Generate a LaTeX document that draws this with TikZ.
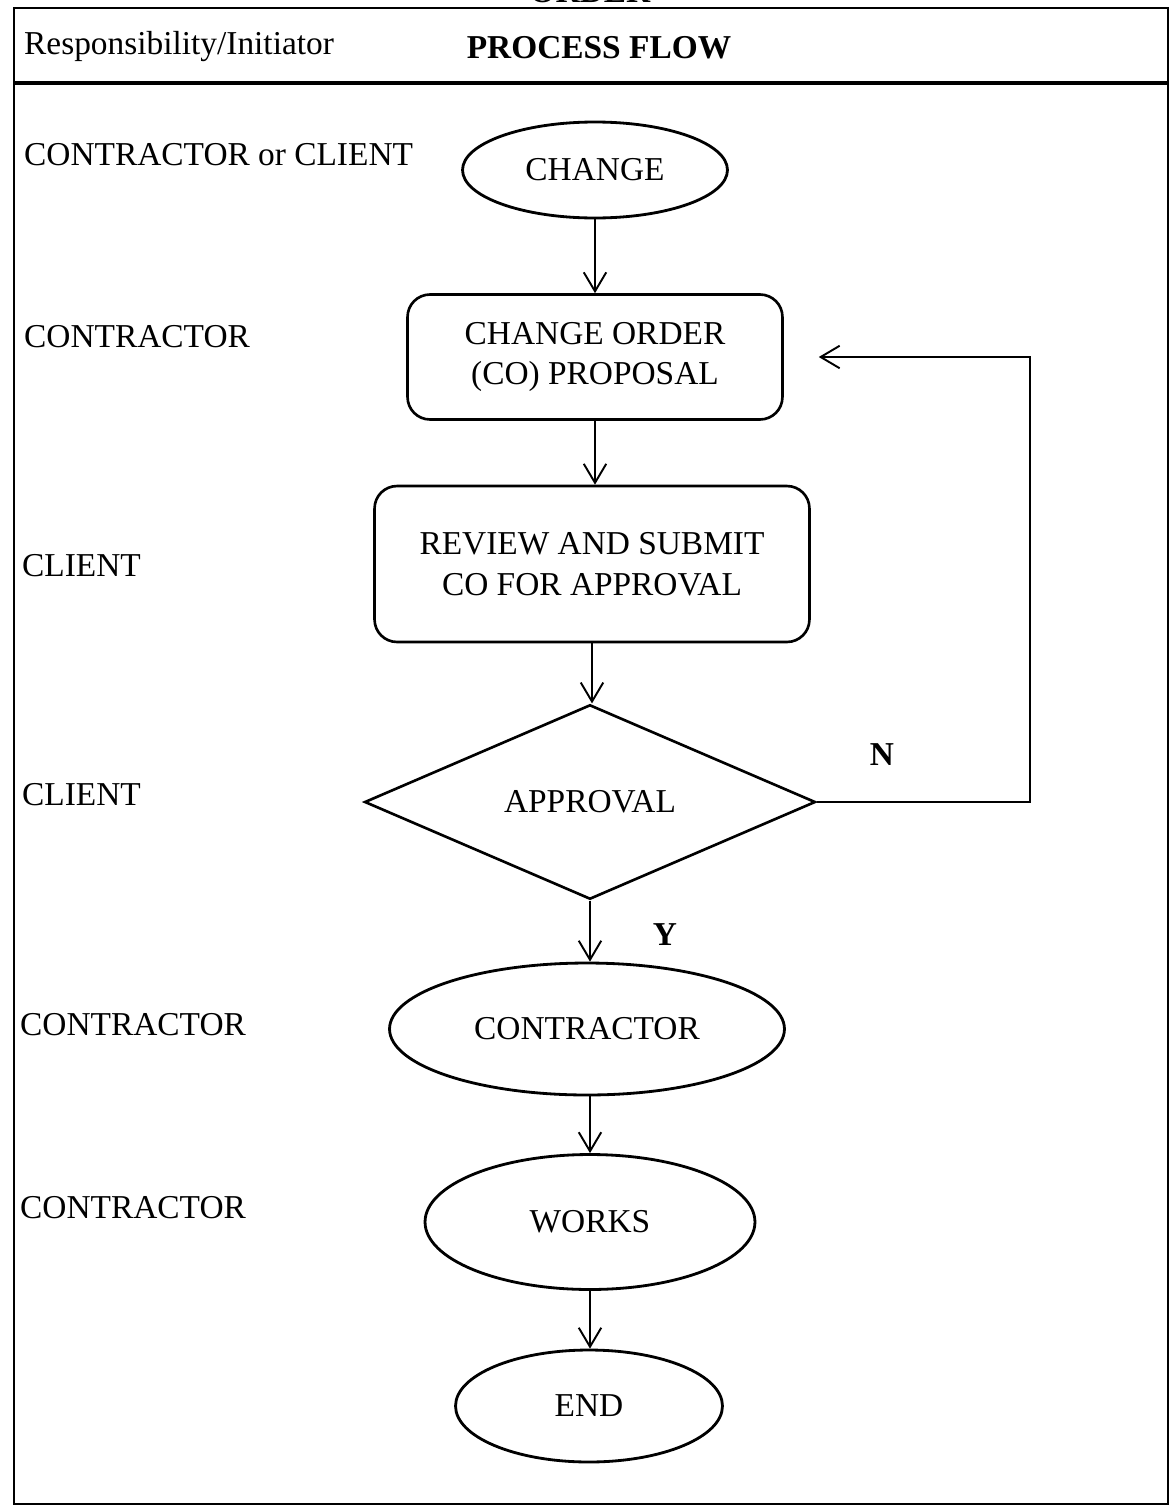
\documentclass[tikz,border=0pt]{standalone}
\usepackage{fontspec}
\setmainfont{Liberation Serif}
\usetikzlibrary{shapes.geometric,arrows.meta}

\tikzset{
  flowtxt/.style={font=\fontsize{19}{23}\selectfont, align=center},
  lanetxt/.style={font=\fontsize{19}{23}\selectfont, anchor=west},
  oval/.style={ellipse, draw, line width=1.6pt, inner sep=0pt, flowtxt},
  roundbox/.style={rectangle, rounded corners=0.45cm, draw, line width=1.5pt, inner sep=0pt, flowtxt},
  decision/.style={diamond, draw, line width=1.5pt, inner sep=0pt, flowtxt},
  flowline/.style={line width=1.1pt, -{Straight Barb[length=0.38cm, width=0.45cm, line width=1.1pt]}},
}

\begin{document}
\begin{tikzpicture}[x=0.02cm, y=-0.02cm]

\useasboundingbox (0,0) rectangle (1171,1508);

% frame and header
\draw[line width=1.6pt] (14,8) -- (1168,8) -- (1168,1504) -- (14,1504) -- cycle;
\draw[line width=1.8pt] (14,83) -- (1168,83);
\node[font=\fontsize{19}{23}\selectfont\bfseries] (order) at (590,-8) {ORDER};
\node[lanetxt] (resp) at (18,47) {Responsibility/Initiator};
\node[font=\fontsize{19}{23}\selectfont\bfseries] (flow) at (599,48) {PROCESS FLOW};

% responsibility column
\node[lanetxt] (r1) at (18,155) {CONTRACTOR or CLIENT};
\node[lanetxt] (r2) at (18,337) {CONTRACTOR};
\node[lanetxt] (r3) at (16,566) {CLIENT};
\node[lanetxt] (r4) at (16,795) {CLIENT};
\node[lanetxt] (r5) at (14,1025) {CONTRACTOR};
\node[lanetxt] (r6) at (14,1208) {CONTRACTOR};

% process flow
\node[oval, minimum width=5.3cm, minimum height=1.92cm] (change) at (595,170) {CHANGE};
\node[roundbox, minimum width=7.5cm, minimum height=2.5cm] (proposal) at (595,357) {CHANGE ORDER\\(CO) PROPOSAL};
\node[roundbox, minimum width=8.7cm, minimum height=3.12cm] (review) at (592,564) {REVIEW AND SUBMIT\\CO FOR APPROVAL};
\node[decision, minimum width=9.02cm, minimum height=3.78cm] (approval) at (590,802) {APPROVAL};
\node[oval, minimum width=7.9cm, minimum height=2.64cm] (contractor) at (587,1029) {CONTRACTOR};
\node[oval, minimum width=6.6cm, minimum height=2.7cm] (works) at (590,1222) {WORKS};
\node[oval, minimum width=5.34cm, minimum height=2.24cm] (end) at (589,1406) {END};

\draw[flowline] (change.south) -- (proposal.north -| change.south);
\draw[flowline] (proposal.south) -- (review.north -| proposal.south);
\draw[flowline] (review.south) -- (approval.north -| review.south);
\draw[flowline] (approval.south) -- (contractor.north -| approval.south);
\draw[flowline] (contractor.south -| works.north) -- (works.north);
\draw[flowline] (works.south) -- (end.north -| works.south);

% N loop back
\coordinate (loop) at (1030,357);
\draw[flowline, rounded corners=0pt] (approval.east) -- (approval.east -| loop) -- (loop) -- ([xshift=0.7cm]proposal.east);

\node[font=\fontsize{19}{23}\selectfont\bfseries] (nlabel) at (882,755) {N};
\node[font=\fontsize{19}{23}\selectfont\bfseries] (ylabel) at (665,935) {Y};

\end{tikzpicture}
\end{document}
